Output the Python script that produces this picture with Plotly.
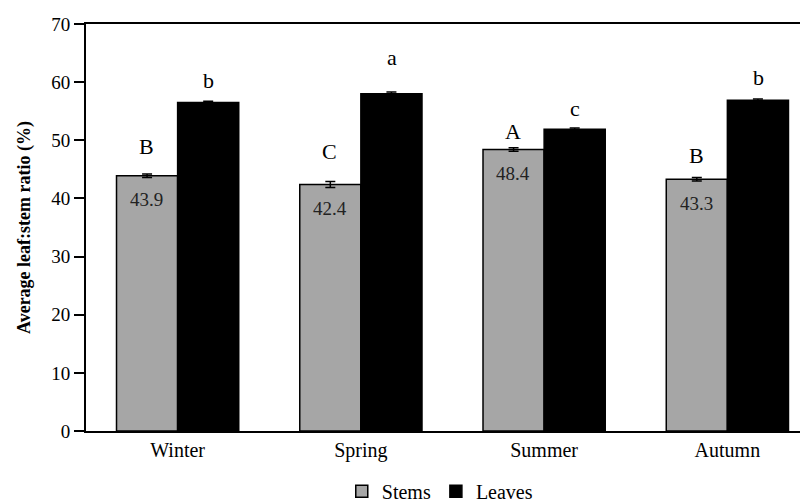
import plotly.graph_objects as go

seasons = ["Winter", "Spring", "Summer", "Autumn"]
stems = [43.9, 42.4, 48.4, 43.3]
leaves = [56.5, 58.0, 51.9, 56.9]
stems_err = [0.3, 0.5, 0.3, 0.3]
leaves_err = [0.2, 0.3, 0.2, 0.2]
stems_letters = ["B", "C", "A", "B"]
leaves_letters = ["b", "a", "c", "b"]
stems_labels = ["43.9", "42.4", "48.4", "43.3"]

# style: pixel offsets of the significance letters above the bars
stems_letter_shift = [29, 33, 18, 24]
leaves_letter_shift = [22, 36, 21, 23]

FONT = "Liberation Serif, Times New Roman, serif"

fig = go.Figure()
fig.add_trace(go.Bar(
    name="Stems", x=seasons, y=stems,
    marker=dict(color="#a6a6a6", line=dict(color="black", width=1.5)),
    error_y=dict(type="data", array=stems_err, color="black", thickness=1.5, width=5),
))
fig.add_trace(go.Bar(
    name="Leaves", x=seasons, y=leaves,
    marker=dict(color="black", line=dict(color="black", width=1.5)),
    error_y=dict(type="data", array=leaves_err, color="black", thickness=1.5, width=5),
))

ann = []
for i, s in enumerate(seasons):
    ann.append(dict(x=i, xshift=-31, y=stems[i], yshift=stems_letter_shift[i], text=stems_letters[i],
                    showarrow=False, xref="x", yref="y",
                    font=dict(family=FONT, size=22, color="black")))
    ann.append(dict(x=i, xshift=31, y=leaves[i], yshift=leaves_letter_shift[i], text=leaves_letters[i],
                    showarrow=False, xref="x", yref="y",
                    font=dict(family=FONT, size=22, color="black")))
    ann.append(dict(x=i, xshift=-31, y=stems[i], yshift=-24, text=stems_labels[i],
                    showarrow=False, xref="x", yref="y",
                    font=dict(family=FONT, size=19, color="#222")))

fig.update_layout(
    width=808, height=504,
    margin=dict(l=78, r=8, t=16, b=81, autoexpand=False),
    paper_bgcolor="white", plot_bgcolor="white",
    barmode="group", bargap=0.333, bargroupgap=0,
    font=dict(family=FONT, size=18, color="black"),
    showlegend=True,
    legend=dict(orientation="h", x=0.49, xanchor="center", y=-0.1, yanchor="top",
                font=dict(family=FONT, size=20), itemwidth=30, traceorder="normal"),
    annotations=ann,
)
fig.update_xaxes(
    range=[-0.5, 3.44], showline=True, linecolor="black", linewidth=2, mirror=True,
    ticks="", showgrid=False, tickfont=dict(family=FONT, size=20), automargin=False,
)
fig.update_yaxes(
    range=[0, 70], dtick=10, showline=True, linecolor="black", linewidth=2,
    ticks="outside", ticklen=10, tickwidth=2, tickcolor="black", showgrid=False,
    zeroline=False, tickfont=dict(family=FONT, size=19), automargin=False,
    title=dict(text="<b>Average leaf:stem ratio (%)</b>", font=dict(family=FONT, size=18), standoff=16),
)

fig.write_html("out.html")
